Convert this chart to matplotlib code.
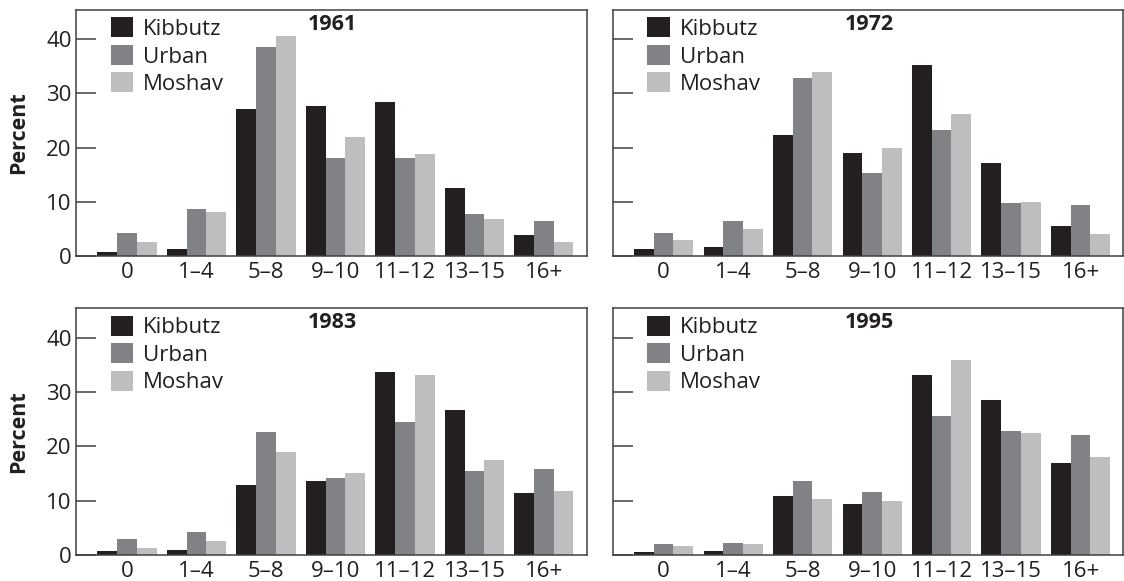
import matplotlib
matplotlib.use("Agg")
import matplotlib.pyplot as plt
import numpy as np

plt.rcParams['font.family'] = ['Open Sans', 'DejaVu Sans']

categories = ["0", "1\u20134", "5\u20138", "9\u201310", "11\u201312", "13\u201315", "16+"]
series_names = ["Kibbutz", "Urban", "Moshav"]
years = ["1961", "1972", "1983", "1995"]

kibbutz_1961 = [0.8, 1.2, 27.1, 27.6, 28.4, 12.6, 3.8]
urban_1961 = [4.2, 8.6, 38.6, 18.0, 18.1, 7.7, 6.5]
moshav_1961 = [2.5, 8.2, 40.6, 22.0, 18.9, 6.8, 2.5]

kibbutz_1972 = [1.2, 1.7, 22.3, 19.0, 35.3, 17.1, 5.5]
urban_1972 = [4.2, 6.4, 32.9, 15.4, 23.3, 9.8, 9.4]
moshav_1972 = [3.0, 5.0, 33.9, 19.9, 26.2, 10.0, 4.1]

kibbutz_1983 = [0.7, 1.0, 12.9, 13.6, 33.6, 26.7, 11.5]
urban_1983 = [2.9, 4.3, 22.7, 14.1, 24.5, 15.5, 15.8]
moshav_1983 = [1.3, 2.5, 18.9, 15.1, 33.1, 17.5, 11.7]

kibbutz_1995 = [0.6, 0.7, 10.8, 9.4, 33.1, 28.5, 16.9]
urban_1995 = [2.0, 2.3, 13.7, 11.6, 25.5, 22.8, 22.0]
moshav_1995 = [1.7, 2.1, 10.3, 9.9, 35.8, 22.4, 18.1]

yticks = [0, 10, 20, 30, 40]

panels = {
    "1961": (kibbutz_1961, urban_1961, moshav_1961),
    "1972": (kibbutz_1972, urban_1972, moshav_1972),
    "1983": (kibbutz_1983, urban_1983, moshav_1983),
    "1995": (kibbutz_1995, urban_1995, moshav_1995),
}

colors = ["#231f20", "#808285", "#bcbec0"]
spine_color = "#404040"
text_color = "#231f20"

W, H = 1124, 581
fig = plt.figure(figsize=(W / 100, H / 100), dpi=100)

def px_axes(x0, x1, ytop, ybot):
    return [x0 / W, (H - ybot) / H, (x1 - x0) / W, (ybot - ytop) / H]

positions = {
    "1961": px_axes(76.4, 586.7, 10, 256),
    "1972": px_axes(613.1, 1123.4, 10, 256),
    "1983": px_axes(76.4, 586.7, 308.3, 555),
    "1995": px_axes(613.1, 1123.4, 308.3, 555),
}

x = np.arange(len(categories))
bw = 0.284
fs = 16

for i, yr in enumerate(years):
    ax = fig.add_axes(positions[yr])
    vals = panels[yr]
    for j, (name, v) in enumerate(zip(series_names, vals)):
        ax.bar(x + (j - 1) * bw, v, width=bw, color=colors[j], label=name,
               edgecolor="none", linewidth=0)
    ax.set_xlim(-0.727, 6.616)
    ax.set_ylim(0, 45.4)
    ax.set_xticks(x)
    ax.set_xticklabels(categories)
    ax.set_yticks(yticks)
    left_col = i % 2 == 0
    if left_col:
        ax.set_yticklabels([str(t) for t in yticks])
        ax.set_ylabel("Percent", fontsize=15.5, fontweight="bold", color=text_color)
        ax.yaxis.set_label_coords(-0.093, 0.5)
    else:
        ax.set_yticklabels([])
    ax.tick_params(axis="y", direction="in", length=14.5, width=1.1,
                   color=spine_color, labelsize=fs, labelcolor=text_color, pad=3.5)
    ax.tick_params(axis="x", length=0, labelsize=fs, labelcolor=text_color, pad=4)
    for s in ax.spines.values():
        s.set_color(spine_color)
        s.set_linewidth(1.1)
    ax.text(0.502, 0.941, yr, transform=ax.transAxes, ha="center", va="center",
            fontsize=15.5, fontweight="bold", color=text_color)
    leg = ax.legend(loc="upper left", bbox_to_anchor=(0.067, 0.97), frameon=False,
                    fontsize=fs, handlelength=1.02, handleheight=1.01,
                    handletextpad=0.45, labelspacing=0.22, borderpad=0,
                    borderaxespad=0)
    for t in leg.get_texts():
        t.set_color(text_color)

fig.savefig("out.png", dpi=100)
